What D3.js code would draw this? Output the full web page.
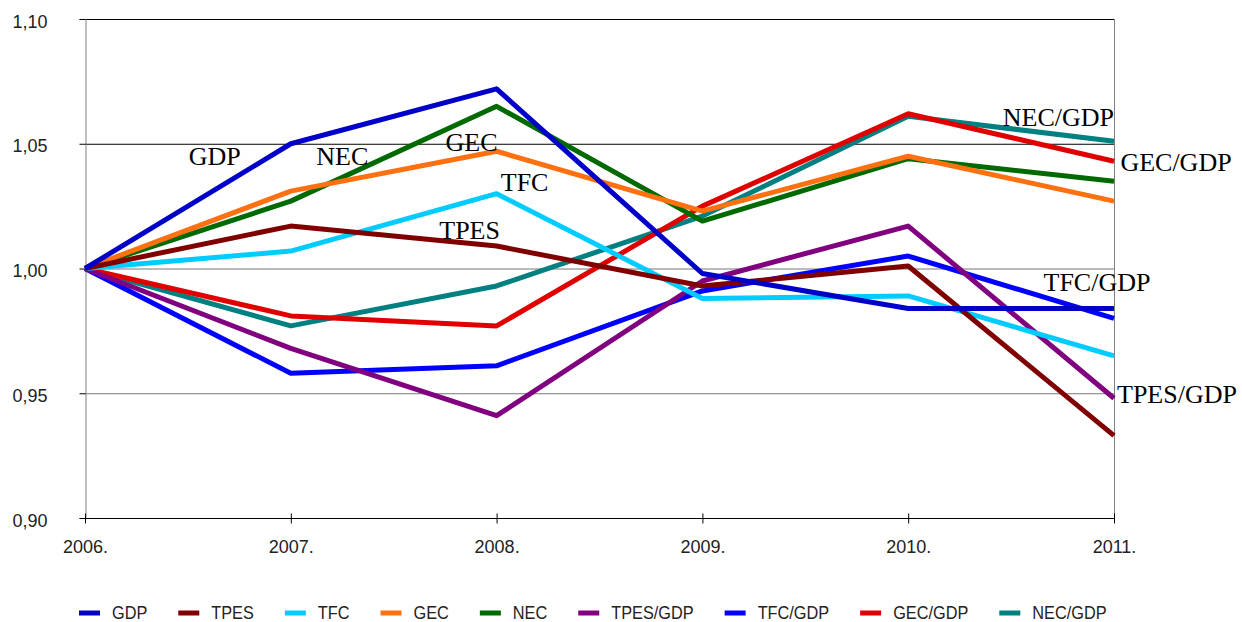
<!DOCTYPE html>
<html><head><meta charset="utf-8">
<script src="https://cdn.jsdelivr.net/npm/d3@7"></script>
<style>body{margin:0;background:#fff}svg{display:block}</style>
</head><body>
<svg id="c" width="1242" height="622"></svg>
<script>
const years = ["2006.","2007.","2008.","2009.","2010.","2011."];
const yTicks = [0.90,0.95,1.00,1.05,1.10];
const seriesNames = ["GDP","TPES","TFC","GEC","NEC","TPES/GDP","TFC/GDP","GEC/GDP","NEC/GDP"];
const seriesColors = ["#0000C8","#800000","#00CCFF","#FF7010","#006A00","#800080","#0000FF","#E00000","#008080"];
const GDP      = [1.000,1.050,1.072,0.998,0.984,0.984];
const TPES     = [1.000,1.017,1.009,0.993,1.001,0.933];
const TFC      = [1.000,1.007,1.030,0.988,0.989,0.965];
const GEC      = [1.000,1.031,1.047,1.023,1.045,1.027];
const NEC      = [1.000,1.027,1.065,1.019,1.044,1.035];
const TPES_GDP = [1.000,0.968,0.941,0.995,1.017,0.948];
const TFC_GDP  = [1.000,0.958,0.961,0.991,1.005,0.980];
const GEC_GDP  = [1.000,0.981,0.977,1.025,1.062,1.043];
const NEC_GDP  = [1.000,0.977,0.993,1.021,1.061,1.051];
const seriesValues = [GDP,TPES,TFC,GEC,NEC,TPES_GDP,TFC_GDP,GEC_GDP,NEC_GDP];
// in-chart annotation labels: [text, year index, value anchor]
const annotations = [
  ["GDP",1,1.0415],["NEC",1,1.0415],["GEC",2,1.047],["TFC",2,1.031],["TPES",2,1.012],
  ["NEC/GDP",5,1.057],["GEC/GDP",5,1.039],["TFC/GDP",5,0.991],["TPES/GDP",5,0.946]
];

const svg = d3.select("#c");
const L = 85, R = 1114, T = 19, B = 518;
const x = d3.scalePoint().domain(years).range([L, R]);
const y = d3.scaleLinear().domain([0.90, 1.10]).range([B, T]);
const fmt = v => d3.format(".2f")(v).replace(".", ",");

// gridlines
svg.append("g").selectAll("line").data(yTicks.filter(v => v > 0.9)).join("line")
  .attr("x1", L).attr("x2", R).attr("y1", d => y(d) + 0.5).attr("y2", d => y(d) + 0.5)
  .attr("stroke", d => d >= 1.05 ? "#000" : "#777").attr("stroke-width", 1);

// y axis
const ya = svg.append("g").attr("transform", `translate(${L + 0.5},0)`)
  .call(d3.axisLeft(y).tickValues(yTicks).tickFormat(fmt).tickSize(6).tickPadding(32));
ya.select(".domain").attr("stroke", "#808080");
ya.selectAll(".tick line").attr("stroke", "#000");
ya.selectAll("text").attr("font-family", "Liberation Sans, Arial, sans-serif").attr("font-size", 18)
  .attr("dy", "0.45em").attr("fill", "#222");

// right border
svg.append("line").attr("x1", R + 0.5).attr("x2", R + 0.5).attr("y1", T).attr("y2", B)
  .attr("stroke", "#808080");

// x axis
const xa = svg.append("g").attr("transform", `translate(0,${B + 0.5})`)
  .call(d3.axisBottom(x).tickSize(5).tickPadding(16.5));
xa.select(".domain").attr("stroke", "#000").attr("d", `M${L},0H${R}`);
xa.selectAll(".tick line").attr("stroke", "#000").attr("y1", -5);
xa.selectAll("text").attr("font-family", "Liberation Sans, Arial, sans-serif").attr("font-size", 18).attr("fill", "#222");

// lines (earlier series drawn on top)
const line = d3.line().x((d, i) => x(years[i])).y(d => y(d));
const order = d3.range(seriesValues.length).reverse();
svg.append("g").selectAll("path").data(order).join("path")
  .attr("d", k => line(seriesValues[k]))
  .attr("fill", "none").attr("stroke", k => seriesColors[k])
  .attr("stroke-width", 5).attr("stroke-linejoin", "round");

// annotations
const annOffsets = {"GDP":-76,"NEC":51.5,"GEC":-25,"TFC":28,"TPES":-27,
  "NEC/GDP":0,"GEC/GDP":62,"TFC/GDP":-17,"TPES/GDP":63};
svg.append("g").selectAll("text").data(annotations).join("text")
  .attr("x", d => x(years[d[1]]) + annOffsets[d[0]])
  .attr("y", d => y(d[2]))
  .attr("text-anchor", d => d[0] === "NEC/GDP" ? "end" : "middle")
  .attr("font-family", "Liberation Serif, Times New Roman, serif").attr("font-size", 26).attr("fill", "#000")
  .text(d => d[0]);

// legend
const lg = svg.append("g").attr("transform", "translate(79,613)");
let cx = 0;
seriesNames.forEach((n, i) => {
  const g = lg.append("g").attr("transform", `translate(${cx},0)`);
  g.append("line").attr("x1", 0).attr("x2", 21).attr("y1", 0).attr("y2", 0)
    .attr("stroke", seriesColors[i]).attr("stroke-width", 5);
  const t = g.append("text").attr("x", 33).attr("y", 0)
    .attr("transform", "scale(1,1.12)")
    .attr("dy", "0.34em")
    .attr("font-family", "Liberation Sans, Arial, sans-serif")
    .attr("font-size", 16.3).attr("fill", "#222").text(n);
  cx += 33 + t.node().getComputedTextLength() + 31;
});
</script>
</body></html>
